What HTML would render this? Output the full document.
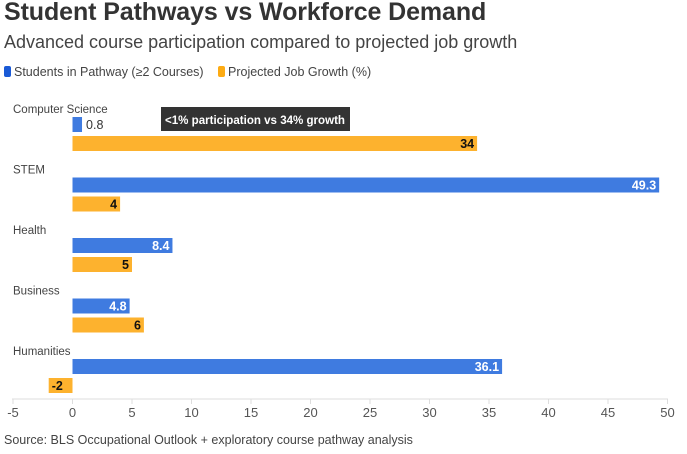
<!DOCTYPE html>
<html><head><meta charset="utf-8"><style>
body{margin:0;width:687px;height:454px;background:#fff;font-family:"Liberation Sans",sans-serif;overflow:hidden;position:relative}
.t{position:absolute;left:4px;top:-2px;font-size:25px;font-weight:bold;color:#333;letter-spacing:-0.1px}
.s{position:absolute;left:4px;top:32px;font-size:18px;color:#444}
.lg{position:absolute;top:65px;font-size:12.5px;color:#444}
.sw{display:inline-block;width:7px;height:11px;border-radius:2px;vertical-align:-1px;margin-right:3px}
.src{position:absolute;left:4px;top:433px;font-size:12.5px;color:#444}
</style></head><body>
<div class="t">Student Pathways vs Workforce Demand</div>
<div class="s">Advanced course participation compared to projected job growth</div>
<div class="lg" style="left:4px"><span class="sw" style="background:#1a5ad6"></span>Students in Pathway (≥2 Courses)</div>
<div class="lg" style="left:218px"><span class="sw" style="background:#fdab13"></span>Projected Job Growth (%)</div>
<svg id="c" width="687" height="454" style="position:absolute;left:0;top:0"></svg>
<div class="src">Source: BLS Occupational Outlook + exploratory course pathway analysis</div>
<script>
const categories=["Computer Science","STEM","Health","Business","Humanities"];
const students=[0.8,49.3,8.4,4.8,36.1];
const growth=[34,4,5,6,-2];
const ticks=[-5,0,5,10,15,20,25,30,35,40,45,50];
const svg=document.getElementById('c');const NS="http://www.w3.org/2000/svg";
const x=v=>72.5+v*11.9;
const gy=i=>117+i*60.5;
function el(t,a){const e=document.createElementNS(NS,t);for(const k in a)e.setAttribute(k,a[k]);svg.appendChild(e);return e;}
const ax=el('line',{x1:12,x2:668,y1:399,y2:399,stroke:'#ddd'});

ticks.forEach(t=>{
 const l=el('line',{x1:x(t),x2:x(t),y1:399,y2:404,stroke:'#ddd'});
 
 const tx=el('text',{x:x(t),y:417,'text-anchor':'middle','font-size':13,fill:'#555'});tx.textContent=t;
 
});
function bar(v,y,col,name,inside,lblCol){
 const x0=Math.min(x(0),x(v)),w=Math.abs(x(v)-x(0));
 const r=el('rect',{x:x0,y:y,width:Math.max(w,1),height:15,fill:col});
 
 const t=el('text',{y:y+12,'font-size':12.5,'font-weight':'bold'});
 if(inside&&w>30){t.setAttribute('x',v<0?x0+3:x0+w-3);t.setAttribute('text-anchor',v<0?'start':'end');t.setAttribute('fill',lblCol);}
 else{t.setAttribute('x',x0+w+4);t.setAttribute('fill','#333');t.setAttribute('font-weight','normal');}
 if(v<0){t.setAttribute('x',x0+3);t.setAttribute('text-anchor','start');t.setAttribute('fill','#111');t.setAttribute('font-weight','bold');}
 t.textContent=v;
 
}
categories.forEach((c,i)=>{
 const t=el('text',{x:13,y:gy(i)-4,'font-size':11.5,fill:'#444'});t.textContent=c;
 
 bar(students[i],gy(i),'#3f7be0','bar-students',true,'#fff');
 bar(growth[i],gy(i)+19,'#fdb22e','bar-growth',true,'#111');
});
const ab=el('rect',{x:161,y:107,width:189,height:24,fill:'#333'});

const at=el('text',{x:165,y:124,'font-size':12,'font-weight':'bold',fill:'#fff',textLength:180,lengthAdjust:'spacingAndGlyphs'});at.textContent='<1% participation vs 34% growth';

</script>
</body></html>
